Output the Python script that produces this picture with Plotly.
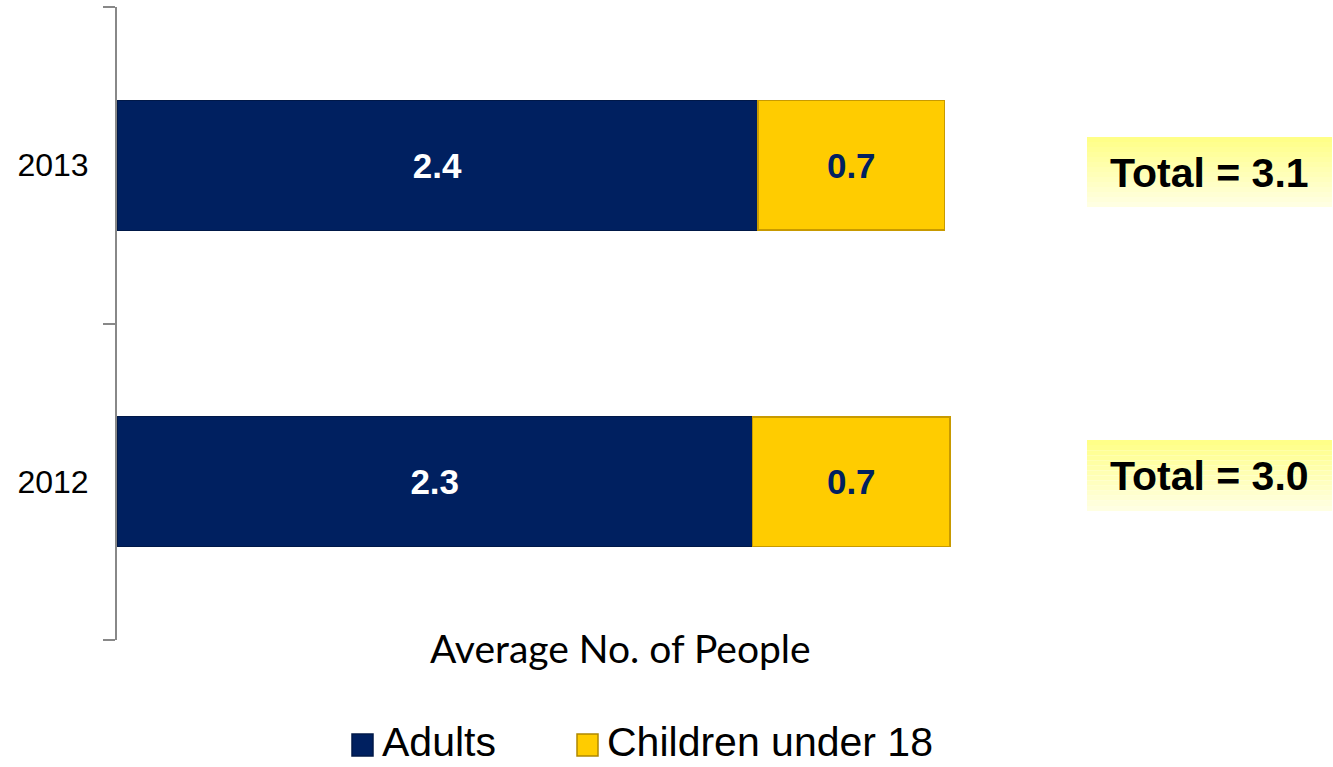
import plotly.graph_objects as go

# ---- data ----
years = ["2012", "2013"]
adults = [2.38, 2.40]
children = [0.74, 0.70]
adult_labels = ["2.3", "2.4"]
child_labels = ["0.7", "0.7"]
totals = ["3.0", "3.1"]
series_names = ["Adults", "Children under 18"]

NAVY = "#002060"
GOLD = "#FFCC00"

W, H = 1333, 767
L, T = 117, 7
PW, PH = 1006, 633          # plot area in px
XMAX = PW / 267.0

def px2x(px):
    return (px - L) / PW

def px2y(py):
    return (T + PH - py) / PH

fig = go.Figure()

fig.add_trace(go.Bar(
    y=years, x=adults, orientation="h", name=series_names[0],
    marker=dict(color=NAVY, line=dict(color="#001848", width=1)),
    text=adult_labels, textposition="inside", insidetextanchor="middle",
    textangle=0,
    textfont=dict(family="Liberation Sans, Arial, sans-serif", size=35,
                  color="white", weight="bold"),
    width=0.41, showlegend=False,
))
fig.add_trace(go.Bar(
    y=years, x=children, orientation="h", name=series_names[1],
    marker=dict(color=GOLD, line=dict(color="#C89A00", width=1.5)),
    text=child_labels, textposition="inside", insidetextanchor="middle",
    textangle=0,
    textfont=dict(family="Liberation Sans, Arial, sans-serif", size=35,
                  color=NAVY, weight="bold"),
    width=0.41, showlegend=False,
))

shapes = []
annotations = []

# legend: swatches + labels
legend_items = [(352, NAVY, "#001848", series_names[0]),
                (577, GOLD, "#B08800", series_names[1])]
for (sx0, fill, edge, label) in legend_items:
    shapes.append(dict(type="rect", xref="paper", yref="paper",
                       x0=px2x(sx0), x1=px2x(sx0 + 21), y0=px2y(756), y1=px2y(734),
                       fillcolor=fill, line=dict(color=edge, width=1.5)))
    annotations.append(dict(
        x=px2x(sx0 + 29), y=px2y(766), xref="paper", yref="paper",
        text=label, showarrow=False, xanchor="left", yanchor="bottom",
        borderpad=0,
        font=dict(family="Liberation Sans, Arial, sans-serif", size=41, color="black")))

# total boxes (gradient light yellow) + text; listed in the same order as years
boxes = [(1087, 1332, 440, 511, 476), (1087, 1332, 137, 207, 173)]
N = 14
top_rgb = (255, 255, 136)
bot_rgb = (255, 255, 226)
for (x0, x1, y0, y1, yc) in boxes:
    for i in range(N):
        f = i / (N - 1)
        c = tuple(int(round(top_rgb[k] + (bot_rgb[k] - top_rgb[k]) * f)) for k in range(3))
        ya = y0 + (y1 - y0) * i / N
        yb = y0 + (y1 - y0) * (i + 1) / N
        shapes.append(dict(type="rect", xref="paper", yref="paper",
                           x0=px2x(x0), x1=px2x(x1), y0=px2y(yb), y1=px2y(ya),
                           fillcolor="rgb(%d,%d,%d)" % c, line=dict(width=0),
                           layer="below"))

for (x0, x1, y0, y1, yc), tot in zip(boxes, totals):
    annotations.append(dict(
        x=px2x((x0 + x1) / 2), y=px2y(yc), xref="paper", yref="paper",
        text="Total = " + tot, showarrow=False, xanchor="center", yanchor="middle",
        font=dict(family="Liberation Sans, Arial, sans-serif", size=41,
                  color="black", weight="bold")))

annotations.append(dict(
    x=px2x(620), y=px2y(648), xref="paper", yref="paper",
    text="Average No. of People", showarrow=False, xanchor="center", yanchor="middle",
    font=dict(family="Lato, Open Sans, sans-serif", size=39, color="black")))

fig.update_layout(
    width=W, height=H,
    margin=dict(l=L, r=W - L - PW, t=T, b=H - T - PH, pad=0, autoexpand=False),
    barmode="stack",
    showlegend=False,
    plot_bgcolor="white", paper_bgcolor="white",
    xaxis=dict(range=[0, XMAX], visible=False, fixedrange=True),
    yaxis=dict(
        type="category", categoryorder="array", categoryarray=years,
        range=[-0.5, 1.5], automargin=False,
        showline=True, linecolor="#888888", linewidth=2,
        ticks="outside", ticklen=12, tickwidth=2, tickcolor="#888888",
        tickson="boundaries", ticklabelstandoff=20,
        tickfont=dict(family="Liberation Sans, Arial, sans-serif", size=32, color="black"),
        showgrid=False, zeroline=False,
    ),
    shapes=shapes,
    annotations=annotations,
)

fig.write_html("out.html",
               config={"displayModeBar": False},
               post_script="document.body.style.margin='0';document.body.style.padding='0';")
